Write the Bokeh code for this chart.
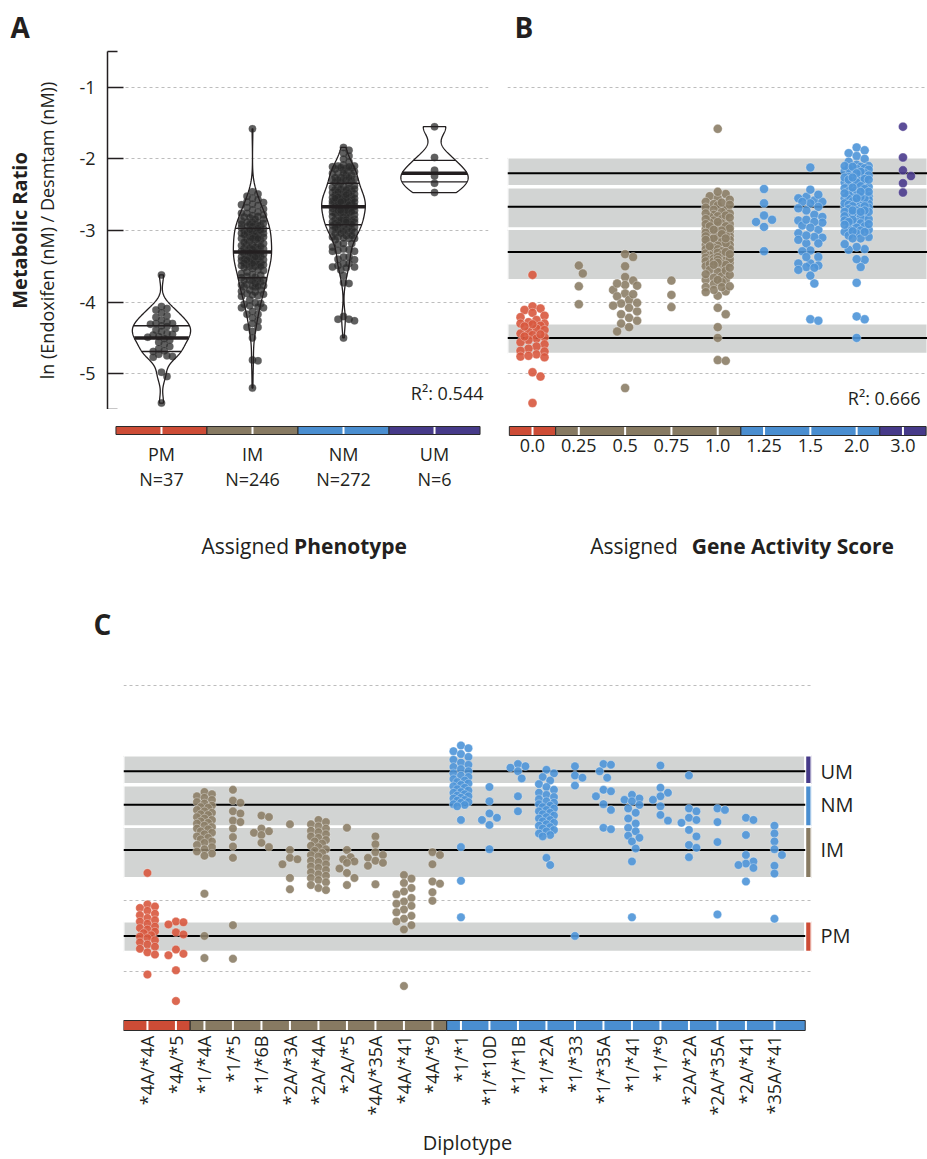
import numpy as np
from bokeh.plotting import figure
from bokeh.layouts import column, row
from bokeh.models import Range1d, FixedTicker, LinearAxis
from bokeh.core.properties import value
from bokeh.embed import file_html
from bokeh.resources import INLINE

# ----------------------------------------------------------------- data
phenotypes = ["PM", "IM", "NM", "UM"]
phenotype_n = ["N=37", "N=246", "N=272", "N=6"]
activity_scores = ["0.0", "0.25", "0.5", "0.75", "1.0", "1.25", "1.5", "2.0", "3.0"]
score_phenotype = ["PM", "IM", "IM", "IM", "IM", "NM", "NM", "NM", "UM"]

diplotypes = ["*4A/*4A", "*4A/*5", "*1/*4A", "*1/*5", "*1/*6B", "*2A/*3A", "*2A/*4A",
              "*2A/*5", "*4A/*35A", "*4A/*41", "*4A/*9", "*1/*1", "*1/*10D", "*1/*1B",
              "*1/*2A", "*1/*33", "*1/*35A", "*1/*41", "*1/*9", "*2A/*2A", "*2A/*35A",
              "*2A/*41", "*35A/*41"]
diplotype_phenotype = ["PM", "PM", "IM", "IM", "IM", "IM", "IM", "IM", "IM", "IM", "IM",
                       "NM", "NM", "NM", "NM", "NM", "NM", "NM", "NM", "NM", "NM", "NM", "NM"]
diplotype_score = ["0.0", "0.0", "1.0", "1.0", "1.0", "1.0", "1.0", "1.0", "1.0", "0.5", "0.5",
                   "2.0", "1.25", "2.0", "2.0", "2.0", "2.0", "1.5", "1.5", "2.0", "2.0", "1.5", "1.5"]

# ln(metabolic ratio) per diplotype
mr_4A_4A = [-3.62, -4.06, -4.09, -4.11, -4.15, -4.19, -4.21, -4.25, -4.28, -4.30, -4.33, -4.37,
            -4.39, -4.41, -4.44, -4.46, -4.49, -4.51, -4.53, -4.56, -4.59, -4.62, -4.65, -4.68,
            -4.73, -4.76, -5.04]
mr_4A_5 = [-4.30, -4.31, -4.34, -4.45, -4.48, -4.69, -4.75, -4.77, -4.98, -5.41]
mr_1_4A = [-2.49, -2.52, -2.55, -2.57, -2.60, -2.63, -2.65, -2.68, -2.70, -2.71, -2.74, -2.76,
           -2.78, -2.80, -2.81, -2.84, -2.86, -2.88, -2.90, -2.92, -2.93, -2.96, -2.98, -3.00,
           -3.01, -3.04, -3.06, -3.08, -3.11, -3.13, -3.15, -3.18, -3.20, -3.23, -3.26, -3.29,
           -3.32, -3.35, -3.38, -3.91, -4.50, -4.81]
mr_1_5 = [-2.46, -2.61, -2.64, -2.76, -2.79, -2.89, -2.91, -3.00, -3.12, -3.25, -3.41, -4.35, -4.82]
mr_1_6B = [-2.82, -2.84, -3.00, -3.04, -3.06, -3.09, -3.20, -3.26]
mr_2A_3A = [-2.94, -3.30, -3.41, -3.43, -3.50, -3.69, -3.85]
mr_2A_4A = [-2.88, -2.91, -2.94, -2.97, -3.00, -3.03, -3.05, -3.08, -3.11, -3.13, -3.16, -3.18,
            -3.21, -3.24, -3.26, -3.29, -3.31, -3.34, -3.37, -3.39, -3.42, -3.45, -3.47, -3.50,
            -3.53, -3.55, -3.58, -3.61, -3.64, -3.66, -3.69, -3.72, -3.75, -3.79, -3.83, -3.86]
mr_2A_5 = [-2.99, -3.30, -3.40, -3.43, -3.46, -3.48, -3.56, -3.62, -3.69, -3.79]
mr_4A_35A = [-3.11, -3.22, -3.33, -3.37, -3.41, -3.45, -3.48, -3.52, -3.78]
mr_4A_41 = [-3.65, -3.70, -3.76, -3.83, -3.88, -3.92, -3.97, -4.02, -4.05, -4.08, -4.13, -4.17,
            -4.22, -4.26, -4.30, -4.35, -4.41, -5.20]
mr_4A_9 = [-3.33, -3.37, -3.50, -3.74, -3.77, -3.89, -4.01]
mr_1_1 = [-1.84, -1.88, -1.92, -1.96, -2.00, -2.04, -2.08, -2.11, -2.14, -2.17, -2.20, -2.23,
          -2.26, -2.28, -2.31, -2.33, -2.35, -2.37, -2.39, -2.41, -2.43, -2.45, -2.47, -2.49,
          -2.50, -2.52, -2.54, -2.55, -2.57, -2.58, -2.60, -2.61, -2.63, -2.64, -2.66, -2.67,
          -2.69, -2.88, -3.26, -3.73, -4.24]
mr_1_10D = [-2.42, -2.62, -2.79, -2.85, -2.88, -2.95, -3.29]
mr_1_1B = [-2.10, -2.13, -2.15, -2.20, -2.30, -2.55, -2.76]
mr_1_2A = [-2.18, -2.23, -2.28, -2.33, -2.38, -2.42, -2.46, -2.50, -2.53, -2.56, -2.59, -2.62,
           -2.64, -2.66, -2.68, -2.70, -2.72, -2.74, -2.76, -2.78, -2.80, -2.82, -2.84, -2.86,
           -2.88, -2.90, -2.92, -2.94, -2.96, -2.98, -3.00, -3.02, -3.04, -3.07, -3.09, -3.11,
           -3.41, -3.51]
mr_1_33 = [-2.13, -2.26, -2.29, -2.40, -4.50]
mr_1_35A = [-2.10, -2.11, -2.20, -2.29, -2.46, -2.48, -2.55, -2.66, -2.74, -2.99, -3.01]
mr_1_41 = [-2.53, -2.58, -2.60, -2.62, -2.67, -2.72, -2.78, -2.86, -2.93, -2.99, -3.04, -3.10,
           -3.13, -3.18, -3.28, -3.46, -4.24]
mr_1_9 = [-2.12, -2.43, -2.50, -2.55, -2.60, -2.69, -2.81, -2.89]
mr_2A_2A = [-2.26, -2.72, -2.76, -2.85, -2.88, -2.92, -3.02, -3.11, -3.23, -3.27, -3.40]
mr_2A_35A = [-2.72, -2.74, -2.91, -3.19, -4.20]
mr_2A_41 = [-2.85, -2.88, -3.09, -3.37, -3.46, -3.49, -3.51, -3.55, -3.74]
mr_35A_41 = [-2.96, -3.07, -3.18, -3.29, -3.37, -3.52, -3.63, -4.26]

diplotype_values = [mr_4A_4A, mr_4A_5, mr_1_4A, mr_1_5, mr_1_6B, mr_2A_3A, mr_2A_4A, mr_2A_5,
                    mr_4A_35A, mr_4A_41, mr_4A_9, mr_1_1, mr_1_10D, mr_1_1B, mr_1_2A, mr_1_33,
                    mr_1_35A, mr_1_41, mr_1_9, mr_2A_2A, mr_2A_35A, mr_2A_41, mr_35A_41]

# patients whose diplotype is not shown in panel C
mr_other_im_025 = [-3.49, -3.60, -3.78, -4.03]
mr_other_im_075 = [-3.70, -3.90, -4.07]
mr_other_im_10 = [-1.58, -4.08, -4.17]
mr_um_30 = [-1.55, -1.98, -2.16, -2.24, -2.34, -2.47]
other_phenotype = ["IM", "IM", "IM", "UM"]
other_score = ["0.25", "0.75", "1.0", "3.0"]
other_values = [mr_other_im_025, mr_other_im_075, mr_other_im_10, mr_um_30]

# per-phenotype summaries (PM, IM, NM, UM)
q_upper = [-4.33, -2.97, -2.34, -2.02]
q_median = [-4.50, -3.30, -2.67, -2.20]
q_lower = [-4.69, -3.66, -2.92, -2.32]
band_top = [-4.30, -2.98, -2.40, -1.98]
band_bottom = [-4.72, -3.69, -2.97, -2.38]

y_ticks = [-5, -4, -3, -2, -1]
grid_values = [-5.5, -5, -4, -3, -2, -1, -0.5]
r2_phenotype = "0.544"
r2_score = "0.666"
panel_letters = ["A", "B", "C"]

# ----------------------------------------------------------------- style
FONT = "Open Sans"
TXT = "#231f20"
PT_COL = {"PM": "#D8583E", "IM": "#8C7E67", "NM": "#4E95D8", "UM": "#4A3B8D"}
BAR_COL = {"PM": "#CD4C36", "IM": "#877A62", "NM": "#4A8ED0", "UM": "#463A89"}
BAND = "#D2D4D3"
GRID = "#BDBDBD"
YPPU = 71.6

# flat records
rec_val, rec_ph, rec_sc = [], [], []
for ph, sc, vals in zip(diplotype_phenotype, diplotype_score, diplotype_values):
    for v in vals:
        rec_val.append(v); rec_ph.append(ph); rec_sc.append(sc)
for ph, sc, vals in zip(other_phenotype, other_score, other_values):
    for v in vals:
        rec_val.append(v); rec_ph.append(ph); rec_sc.append(sc)
rec_val = np.array(rec_val)


def swarm_offsets(vals, x_ppu, y_ppu, diam, max_half):
    vals = np.asarray(vals, dtype=float)
    order = np.argsort(-vals, kind="stable")
    step = diam / 2.0
    cands = [0.0]
    k = 1
    while k * step <= max_half + 1e-9:
        cands.extend([k * step, -k * step])
        k += 1
    pxs, pys = [], []
    offs = np.zeros(len(vals))
    for i in order:
        y = vals[i] * y_ppu
        if pxs:
            px = np.array(pxs); py = np.array(pys)
            near = np.abs(py - y) < diam
            px, py = px[near], py[near]
        else:
            px = py = np.array([])
        best, best_d = 0.0, -1.0
        for c in cands:
            d = np.min(np.hypot(px - c, py - y)) if px.size else 1e9
            if d >= diam:
                best = c
                break
            if d > best_d:
                best, best_d = c, d
        pxs.append(best); pys.append(y)
        offs[i] = best / x_ppu
    return offs


def new_fig(w, h, xr, yr, left=0, right=0, top=0, bottom=0):
    p = figure(width=w, height=h, x_range=xr, y_range=yr, x_axis_location=None,
               y_axis_location=None, output_backend="svg", toolbar_location=None, tools="",
               min_border_left=left, min_border_right=right, min_border_top=top,
               min_border_bottom=bottom)
    p.outline_line_color = None
    p.background_fill_color = "white"
    p.border_fill_color = "white"
    p.xgrid.visible = False
    p.ygrid.visible = False
    return p


def panel_title(p, t, offset, standoff):
    p.title.text = t
    p.title.text_font = FONT
    p.title.text_font_size = "28px"
    p.title.text_font_style = "bold"
    p.title.text_color = TXT
    p.title.align = "left"
    p.title.vertical_align = "bottom"
    p.title.offset = offset
    p.title.standoff = standoff


def dashed_grid(p):
    p.ygrid.visible = True
    p.ygrid.ticker = FixedTicker(ticks=grid_values)
    p.ygrid.grid_line_color = GRID
    p.ygrid.grid_line_dash = "3 3"
    p.ygrid.grid_line_width = 1


def txt(p, x, y, t, size="18px", align="center", style="normal", xoff=0, base="middle"):
    p.text(x=x, y=y, text=t, text_font=value(FONT), text_font_size=size, text_align=align,
           text_baseline=base, text_font_style=style, text_color=TXT, x_offset=xoff)


def runs(seq):
    out, s = [], 0
    for i in range(1, len(seq) + 1):
        if i == len(seq) or seq[i] != seq[s]:
            out.append((s, i - 1, seq[s]))
            s = i
    return out

# ================================================================= Panel A
AX = Range1d(-0.593, 3.593)
pa = new_fig(498, 409, AX, Range1d(-5.5, -0.5), left=107, right=10, top=51)
panel_title(pa, panel_letters[0], -97, 11)
dashed_grid(pa)
ax_in = LinearAxis(ticker=FixedTicker(ticks=y_ticks, minor_ticks=[-5.5, -0.5]),
                   major_label_overrides={t: str(t) for t in y_ticks},
                   axis_line_color=TXT, axis_line_width=1.5,
                   major_tick_in=16, major_tick_out=0, major_tick_line_color=TXT,
                   major_tick_line_width=1.5, minor_tick_in=10, minor_tick_out=0,
                   minor_tick_line_color=TXT, minor_tick_line_width=1.5,
                   major_label_text_font=FONT, major_label_text_font_size="18px",
                   major_label_text_color=TXT, major_label_standoff=12,
                   axis_label="ln (Endoxifen (nM) / Desmtam (nM))", axis_label_text_font=FONT,
                   axis_label_text_font_size="18px", axis_label_text_font_style="normal",
                   axis_label_text_color=TXT, axis_label_standoff=17)
pa.add_layout(ax_in, "left")
ax_out = LinearAxis(ticker=FixedTicker(ticks=[]), axis_line_color=None,
                    major_tick_line_color=None, minor_tick_line_color=None,
                    major_tick_in=0, major_tick_out=0, minor_tick_in=0, minor_tick_out=0,
                    major_label_standoff=0, axis_label="Metabolic Ratio",
                    axis_label_text_font=FONT, axis_label_text_font_size="20px",
                    axis_label_text_font_style="bold", axis_label_text_color=TXT,
                    axis_label_standoff=0)
pa.add_layout(ax_out, "left")

VIOLIN_HALF = [0.32, 0.21, 0.24, 0.37]
SWARM_HALF_A = [15, 12, 13, 8]
v_xs, v_ys, seg = [], [], {"x0": [], "x1": [], "y": [], "w": []}
pt_x, pt_y = [], []
for i, ph in enumerate(phenotypes):
    vals = rec_val[[p == ph for p in rec_ph]]
    v = np.sort(vals)
    sd = v.std(ddof=1)
    q75, q25 = np.percentile(v, [75, 25])
    bw = 0.9 * min(sd, (q75 - q25) / 1.34) * len(v) ** -0.2
    grid = np.linspace(v[0], v[-1], 200)
    dens = np.exp(-0.5 * ((grid[:, None] - v[None, :]) / bw) ** 2).sum(axis=1)
    dmax = dens.max()
    hw = dens / dmax * VIOLIN_HALF[i]
    v_xs.append(list(np.concatenate([i + hw, (i - hw)[::-1]])))
    v_ys.append(list(np.concatenate([grid, grid[::-1]])))
    for q, w in ((q_upper[i], 1.3), (q_median[i], 3.5), (q_lower[i], 1.3)):
        dq = np.exp(-0.5 * ((q - v) / bw) ** 2).sum() / dmax * VIOLIN_HALF[i]
        seg["x0"].append(i - dq); seg["x1"].append(i + dq); seg["y"].append(q); seg["w"].append(w)
    offs = swarm_offsets(vals, 91.0, YPPU, 5.5, SWARM_HALF_A[i])
    pt_x.extend(list(i + offs)); pt_y.extend(list(vals))

pa.patches(xs=v_xs, ys=v_ys, fill_color="white", line_color=None)
pa.scatter(x=pt_x, y=pt_y, size=7.5, fill_color="#2a2a2a", fill_alpha=0.75, line_color="#666666",
           line_alpha=0.35, line_width=0.6)
pa.patches(xs=v_xs, ys=v_ys, fill_color=None, line_color=TXT, line_width=1.3)
pa.segment(x0=seg["x0"], x1=seg["x1"], y0=seg["y"], y1=seg["y"], line_color=TXT,
           line_width=seg["w"])
txt(pa, [AX.end], [-5.27], ["R²: " + r2_phenotype], align="right", xoff=-5)

pa_bot = new_fig(498, 156, AX, Range1d(156, 0), left=107, right=10)
idx_a = list(range(len(phenotypes)))
pa_bot.quad(left=[i - 0.5 for i in idx_a], right=[i + 0.5 for i in idx_a], top=17, bottom=25,
            fill_color=[BAR_COL[p] for p in phenotypes], line_color="#2b2b2b", line_width=1)
pa_bot.segment(x0=idx_a, x1=idx_a, y0=17.6, y1=24.4, line_color="white", line_width=2)
txt(pa_bot, idx_a, 44, phenotypes)
txt(pa_bot, idx_a, 69, phenotype_n)
txt(pa_bot, [1.5], [136], ["Assigned"], size="21px", align="right", xoff=-9)
txt(pa_bot, [1.5], [136], ["Phenotype"], size="21px", align="left", style="bold", xoff=-4)

# ================================================================= Panel B
BX = Range1d(-0.54, 8.53)
B_PPU = 420 / (8.53 + 0.54)
pb = new_fig(429, 409, BX, Range1d(-5.5, -0.5), left=9, right=0, top=51)
panel_title(pb, panel_letters[1], 7, 11)
dashed_grid(pb)
pb.quad(left=BX.start, right=BX.end, top=band_top, bottom=band_bottom, fill_color=BAND,
        line_color="white", line_width=2)
pb.segment(x0=BX.start, x1=BX.end, y0=q_median, y1=q_median, line_color="black", line_width=2)
bx, by, bc = [], [], []
for j, sc in enumerate(activity_scores):
    mask = [s == sc for s in rec_sc]
    vals = rec_val[mask]
    phs = [p for p, m in zip(rec_ph, mask) if m]
    offs = swarm_offsets(vals, B_PPU, YPPU, 8.0, 12)
    bx.extend(list(j + offs)); by.extend(list(vals)); bc.extend([PT_COL[p] for p in phs])
pb.scatter(x=bx, y=by, size=9, fill_color=bc, fill_alpha=0.9, line_color="white",
           line_alpha=0.45, line_width=0.7)
txt(pb, [BX.end], [-5.34], ["R²: " + r2_score], align="right", xoff=-7)

pb_bot = new_fig(429, 156, BX, Range1d(156, 0), left=9, right=0)
for s, e, ph in runs(score_phenotype):
    pb_bot.quad(left=[max(s - 0.5, BX.start)], right=[min(e + 0.5, BX.end)], top=17, bottom=26,
                fill_color=BAR_COL[ph], line_color="#2b2b2b", line_width=1)
idx_b = list(range(len(activity_scores)))
pb_bot.segment(x0=idx_b, x1=idx_b, y0=17.6, y1=25.4, line_color="white", line_width=2)
txt(pb_bot, idx_b, 36, activity_scores)
txt(pb_bot, [4.0], [136], ["Assigned"], size="21px", align="right", xoff=-40)
txt(pb_bot, [4.0], [136], ["Gene Activity Score"], size="21px", align="left", style="bold",
    xoff=-26)

# ================================================================= Panel C
CX = Range1d(-0.84, 23.30)
C_PPU = 688 / (23.30 + 0.84)
BAND_END = 23.08
pc = new_fig(866, 442, CX, Range1d(-5.5, -0.5), left=123, right=55, top=84)
panel_title(pc, panel_letters[2], -30, 14)
dashed_grid(pc)
pc.quad(left=CX.start, right=BAND_END, top=band_top, bottom=band_bottom, fill_color=BAND,
        line_color="white", line_width=2)
pc.quad(left=BAND_END, right=CX.end, top=band_top, bottom=band_bottom,
        fill_color=[BAR_COL[p] for p in phenotypes], line_color="white", line_width=2)
pc.segment(x0=CX.start, x1=BAND_END, y0=q_median, y1=q_median, line_color="black", line_width=2)
cx, cy, cc = [], [], []
for k, (ph, vals) in enumerate(zip(diplotype_phenotype, diplotype_values)):
    offs = swarm_offsets(vals, C_PPU, YPPU, 7.5, 8)
    cx.extend(list(k + offs)); cy.extend(list(vals)); cc.extend([PT_COL[ph]] * len(vals))
pc.scatter(x=cx, y=cy, size=8.5, fill_color=cc, fill_alpha=0.9, line_color="white",
           line_alpha=0.45, line_width=0.7)
ax_r = LinearAxis(ticker=FixedTicker(ticks=q_median),
                  major_label_overrides={m: p for m, p in zip(q_median, phenotypes)},
                  axis_line_color=None, major_tick_line_color=None, minor_tick_line_color=None,
                  major_tick_out=0, major_tick_in=0, minor_tick_out=0, minor_tick_in=0,
                  major_label_standoff=9, major_label_text_font=FONT,
                  major_label_text_font_size="20px", major_label_text_color=TXT)
pc.add_layout(ax_r, "right")

pc_bot = new_fig(866, 152, CX, Range1d(-0.1, 1.1), left=123, right=55, top=12, bottom=128)
for s, e, ph in runs(diplotype_phenotype):
    left = CX.start if s == 0 else s - 0.5
    right = BAND_END if e == len(diplotypes) - 1 else e + 0.5
    pc_bot.quad(left=[left], right=[right], top=1, bottom=0, fill_color=BAR_COL[ph],
                line_color="#2b2b2b", line_width=1)
idx_c = list(range(len(diplotypes)))
pc_bot.segment(x0=idx_c, x1=idx_c, y0=0.06, y1=0.94, line_color="white", line_width=2)
ax_c = LinearAxis(ticker=FixedTicker(ticks=idx_c),
                  major_label_overrides={i: d for i, d in enumerate(diplotypes)},
                  major_label_orientation=np.pi / 2, axis_line_color=None,
                  major_tick_line_color=None, minor_tick_line_color=None,
                  major_tick_out=0, major_tick_in=0, minor_tick_out=0, minor_tick_in=0,
                  major_label_standoff=4, major_label_text_font=FONT,
                  major_label_text_font_size="18px", major_label_text_color=TXT,
                  axis_label="Diplotype", axis_label_text_font=FONT,
                  axis_label_text_font_size="20px", axis_label_text_font_style="normal",
                  axis_label_text_color=TXT, axis_label_standoff=10)
pc_bot.add_layout(ax_c, "below")

layout = column(row(column(pa, pa_bot), column(pb, pb_bot)), column(pc, pc_bot))
open("out.html", "w").write(file_html(layout, INLINE))
